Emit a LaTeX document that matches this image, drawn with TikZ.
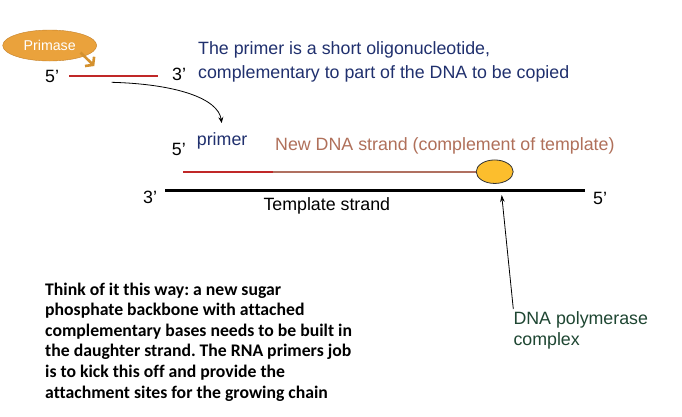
\documentclass[tikz,border=0pt]{standalone}
\usepackage{fontspec}
\setmainfont{Liberation Sans}
\newfontfamily\calib[Ligatures=NoCommon]{Carlito}
\usetikzlibrary{arrows.meta,shapes.geometric}
\definecolor{primfill}{RGB}{234,162,60}
\definecolor{primdraw}{RGB}{196,130,44}
\definecolor{primarrow}{RGB}{212,145,46}
\definecolor{navy}{RGB}{32,48,110}
\definecolor{redline}{RGB}{192,40,40}
\definecolor{brownline}{RGB}{176,112,96}
\definecolor{browntext}{RGB}{176,112,90}
\definecolor{polyfill}{RGB}{252,190,45}
\definecolor{polygreen}{RGB}{30,70,50}
\tikzset{
  lbl/.style={inner sep=0pt, anchor=base west, font=\fontsize{17.8}{24}\selectfont},
  strand/.style={line width=2pt},
}
\frenchspacing
\begin{document}
\begin{tikzpicture}[x=1pt,y=-1pt]
\useasboundingbox[fill=white] (0,0) rectangle (682,416);

% primase
\node[ellipse, draw=primdraw, fill=primfill, minimum width=94pt, minimum height=31pt, inner sep=0pt,
      text=white, font=\fontsize{14.2}{16}\selectfont] (primase) at (49.7,45.5) {Primase};
\coordinate (pa1) at (80.5,52.5);
\coordinate (pa2) at (94.3,66);
\draw[primarrow, line width=2.6pt, -{Straight Barb[length=5pt,width=13pt]}] (pa1) -- (pa2);

% primer strand
\coordinate (p1) at (69,75.7);
\coordinate (p2) at (158,75.7);
\draw[redline, strand] (p1) -- (p2);
\node[lbl] (p5) at (45,82) {5’};
\node[lbl] (p3) at (172,80) {3’};

% explanation text (base anchor = last line)
\node[lbl, text=navy, align=left] (expl) at (198,78) {The primer is a short oligonucleotide,\\complementary to part of the DNA to be copied};

% curved arrow
\coordinate (ca1) at (111.7,82.3);
\node[lbl, text=navy] (primer) at (196.7,145) {primer};
\coordinate (ca2) at (221.7,123);
\draw[black, line width=0.8pt, -{Stealth[length=6pt,width=5pt]}] (ca1) .. controls (175,84) and (218,98) .. (ca2);

% new strand
\node[lbl] (n5) at (171.7,155) {5’};
\node[lbl, text=browntext] (newtxt) at (275,150) {New DNA strand (complement of template)};
\coordinate (r1) at (183.3,171.7);
\coordinate (r2) at (273.3,171.7);
\coordinate (b2) at (477,171.7);
\draw[redline, strand] (r1) -- (r2);
\draw[brownline, strand] (r2) -- (b2);
\node[ellipse, draw=black!80, fill=polyfill, line width=0.8pt, minimum width=37pt, minimum height=23.5pt, inner sep=0pt] (poly) at (494.7,171.7) {};

% template strand
\coordinate (t1) at (165,190.3);
\coordinate (t2) at (585,190.3);
\draw[black, line width=2.6pt] (t1) -- (t2);
\node[lbl] (t3lbl) at (143,203) {3’};
\node[lbl] (t5lbl) at (593,204) {5’};
\node[lbl] (ttxt) at (263.3,210) {Template strand};

% polymerase label (base anchor = last line)
\node[lbl, text=polygreen, align=left, font=\fontsize{17.8}{21}\selectfont] (polytxt) at (513.3,345) {DNA polymerase\\complex};
\coordinate (pt1) at (513.3,309);
\coordinate (pt2) at (501.7,195);
\draw[black, line width=0.8pt, -{Stealth[length=7pt,width=4.5pt]}] (pt1) -- (pt2);

% bold paragraph (base anchor = last line)
\node[inner sep=0pt, anchor=base west, align=left, font=\calib\bfseries\fontsize{17.7}{20.6}\selectfont] (para) at (45,398)
{Think of it this way: a new sugar\\
phosphate backbone with attached\\
complementary bases needs to be built in\\
the daughter strand. The RNA primers job\\
is to kick this off and provide the\\
attachment sites for the growing chain};
\end{tikzpicture}
\end{document}
